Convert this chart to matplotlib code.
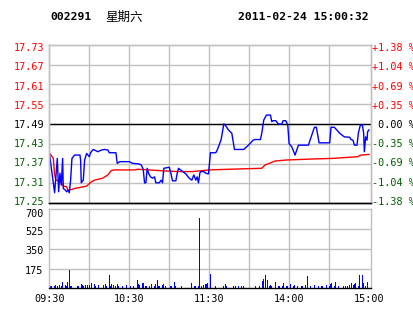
import matplotlib
matplotlib.use("Agg")
import matplotlib.pyplot as plt

plt.rcParams['font.family'] = ['DejaVu Sans Mono', 'Noto Sans CJK SC']

# minutes from 09:30 (lunch break removed: 11:30 == 13:00 at minute 120)
price_min = [0, 4, 6, 7, 8, 9, 10, 10.5, 12, 13, 14, 15, 16, 17, 19, 23, 23.5, 24, 25.5, 26.5,
             28, 29, 30, 31, 33, 36.5, 39, 41.5, 44, 45, 50, 51, 53, 60, 62.5, 67.5, 69, 70.5, 71.5, 72.5,
             73.5, 74.5, 76, 77.5, 79, 80, 82.5, 84, 85, 86, 90, 91, 92.5, 95, 96, 97, 98.5, 102.5, 105, 107,
             108.5, 110, 111, 112, 113, 113.5, 116, 117.5, 119.5, 121, 125, 126, 127, 129, 131, 132, 134.5, 137, 139, 146,
             149.5, 153, 154.5, 158.5, 159.5, 161, 163, 166, 167, 168, 170, 172, 174.5, 175.5, 177.5, 179, 180, 182, 184.5, 187,
             194.5, 199, 200.5, 202.5, 210.5, 211.5, 214, 218, 221.5, 225.5, 226.5, 228, 229, 231, 232, 233.5, 235, 236, 236.5, 237.5,
             238.5, 239, 240]
price = [17.403, 17.282, 17.386, 17.285, 17.341, 17.305, 17.386, 17.295, 17.29, 17.285, 17.29, 17.282, 17.32, 17.386, 17.396, 17.396, 17.381, 17.312, 17.32, 17.381,
         17.401, 17.396, 17.391, 17.403, 17.413, 17.406, 17.411, 17.413, 17.411, 17.403, 17.403, 17.371, 17.376, 17.376, 17.371, 17.369, 17.366, 17.353, 17.312, 17.312,
         17.356, 17.341, 17.33, 17.326, 17.33, 17.312, 17.312, 17.32, 17.312, 17.356, 17.359, 17.346, 17.318, 17.318, 17.341, 17.356, 17.351, 17.339, 17.326, 17.32,
         17.336, 17.32, 17.33, 17.312, 17.341, 17.346, 17.346, 17.341, 17.339, 17.403, 17.403, 17.411, 17.421, 17.443, 17.49, 17.487, 17.472, 17.462, 17.413, 17.413,
         17.426, 17.441, 17.443, 17.443, 17.462, 17.502, 17.517, 17.517, 17.497, 17.5, 17.5, 17.49, 17.49, 17.5, 17.5, 17.487, 17.431, 17.421, 17.396, 17.426,
         17.426, 17.48, 17.48, 17.433, 17.433, 17.48, 17.48, 17.462, 17.451, 17.45, 17.443, 17.441, 17.426, 17.426, 17.462, 17.487, 17.487, 17.462, 17.406, 17.451,
         17.441, 17.467, 17.472]

avg_min = [0, 3, 4, 5, 7, 9, 10.5, 13, 14, 17, 19, 23, 28, 31.5, 34, 40, 44, 46.5, 49, 64, 66.5, 75,
           86, 97.5, 107.5, 120, 134.5, 159.5, 162, 169.5, 178, 197, 213, 231.5, 234, 240]
avg_price = [17.403, 17.386, 17.336, 17.32, 17.318, 17.315, 17.302, 17.3, 17.29, 17.292, 17.295, 17.298, 17.302, 17.315, 17.32, 17.326,
             17.336, 17.349, 17.351, 17.351, 17.353, 17.351, 17.348, 17.346, 17.346, 17.351, 17.353, 17.356, 17.366, 17.378, 17.381, 17.384,
             17.386, 17.391, 17.396, 17.398]

vol_min = [1, 2, 4, 5, 6, 8, 9, 10, 12, 13, 14, 15, 16, 17, 21, 22, 24, 25, 26, 27, 29, 30, 32, 34, 35, 37,
           41, 42, 43, 45, 46, 47, 48, 50, 51, 52, 55, 58, 61, 63, 66, 67, 68, 70, 71, 72, 73, 75, 77, 79, 80, 81,
           82, 83, 85, 86, 87, 91, 92, 94, 95, 99, 107, 109, 110, 112, 113, 114, 116, 117, 118, 119, 121, 125, 131, 132,
           133, 138, 140, 142, 144, 146, 155, 158, 160, 161, 162, 164, 165, 166, 167, 170, 172, 173, 175, 176, 178, 179,
           181, 183, 184, 186, 189, 190, 192, 194, 196, 199, 202, 204, 205, 208, 210, 211, 212, 214, 215, 217, 221, 222,
           224, 225, 227, 228, 229, 230, 232, 233, 235, 236, 237, 239]
vol = [21, 21, 21, 30, 21, 27, 21, 56, 30, 21, 56, 162, 21, 21, 21, 21, 38, 27, 21, 27, 30, 30, 44, 38, 21, 30,
       30, 38, 21, 118, 21, 38, 30, 21, 38, 21, 21, 27, 21, 21, 74, 38, 30, 50, 44, 21, 21, 21, 38, 21, 38, 74,
       21, 21, 30, 38, 21, 21, 21, 56, 21, 21, 44, 21, 21, 21, 620, 21, 30, 38, 38, 44, 127, 21, 21, 38,
       21, 21, 21, 21, 21, 21, 21, 21, 65, 80, 115, 74, 21, 30, 21, 56, 21, 21, 21, 44, 21, 21,
       38, 21, 30, 21, 21, 21, 30, 109, 21, 30, 21, 21, 21, 30, 21, 38, 50, 21, 56, 21, 21, 21,
       21, 30, 44, 30, 38, 44, 21, 118, 118, 44, 21, 56]

price_ticks = [17.73, 17.67, 17.61, 17.55, 17.49, 17.43, 17.37, 17.31, 17.25]
pct_labels = ["+1.38 %", "+1.04 %", "+0.69 %", "+0.35 %", " 0.00 %", "-0.35 %", "-0.69 %", "-1.04 %", "-1.38 %"]
vol_ticks = [175, 350, 525, 700]
time_ticks = [0, 60, 120, 180, 240]
time_labels = ["09:30", "10:30", "11:30", "14:00", "15:00"]

prev_close = 17.49
grid_c = "#c0c0c0"
green = "#005f00"
fs = 7.3

# labels sit a little inside the grid lines, like in the original
price_lab_pos = [prev_close + (v - prev_close) * 0.967 for v in price_ticks]
vol_lab_pos = [162, 338, 512, 665]


def label_color(v):
    if v > prev_close + 1e-9:
        return "red"
    if v < prev_close - 1e-9:
        return green
    return "black"


fig = plt.figure(figsize=(4.14, 3.14), dpi=100)
ax = fig.add_axes([49.3 / 414, 1 - 203.3 / 314, 321.7 / 414, 158.6 / 314])
axv = fig.add_axes([49.3 / 414, 1 - 288.3 / 314, 321.7 / 414, 79 / 314])

x_max = 241.5

# price panel
ax.set_xlim(0, x_max)
ax.set_ylim(17.25, 17.73)
for t in range(30, 240, 30):
    ax.axvline(t, color=grid_c, lw=1, zorder=0)
for v in price_ticks[1:-1]:
    ax.axhline(v, color=grid_c, lw=1, zorder=0)
ax.axhline(prev_close, color="black", lw=1, zorder=1)
ax.plot(avg_min, avg_price, color="#ff0000", lw=1, zorder=2)
ax.plot(price_min, price, color="#0000ff", lw=1, zorder=3)

ax.set_xticks([])
ax.set_yticks(price_lab_pos)
ax.set_yticklabels(["%.2f" % v for v in price_ticks])
ax.tick_params(axis="y", length=0, pad=3.6, labelsize=fs)
for lab, v in zip(ax.get_yticklabels(), price_ticks):
    lab.set_color(label_color(v))

ax2 = ax.twinx()
ax2.set_ylim(17.25, 17.73)
ax2.set_yticks(price_lab_pos)
ax2.set_yticklabels(pct_labels)
ax2.tick_params(axis="y", length=0, pad=0.5, labelsize=fs)
for lab, v in zip(ax2.get_yticklabels(), price_ticks):
    lab.set_color(label_color(v))

for a in (ax, ax2):
    for s in ("top", "left", "right"):
        a.spines[s].set_color(grid_c)
        a.spines[s].set_linewidth(1)
    a.spines["bottom"].set_color("black")
    a.spines["bottom"].set_linewidth(1)

# volume panel
axv.set_xlim(0, x_max)
axv.set_ylim(0, 700)
for t in range(30, 240, 30):
    axv.axvline(t, color=grid_c, lw=1, zorder=0)
for v in vol_ticks[:-1]:
    axv.axhline(v, color=grid_c, lw=1, zorder=0)
axv.bar(vol_min, vol, width=0.75, color="#0000ff", linewidth=0, zorder=2)
axv.set_yticks(vol_lab_pos)
axv.set_yticklabels([str(v) for v in vol_ticks])
axv.set_xticks(time_ticks)
axv.set_xticklabels(time_labels)
axv.tick_params(axis="y", length=0, pad=4.3, labelsize=fs)
axv.tick_params(axis="x", length=0, pad=4, labelsize=fs)
for s in ("top", "left", "right"):
    axv.spines[s].set_color(grid_c)
    axv.spines[s].set_linewidth(1)
axv.spines["bottom"].set_color("black")
axv.spines["bottom"].set_linewidth(1)

# header
fig.text(50 / 414, 1 - 17 / 314, "002291", fontsize=8.2, fontweight="bold", va="center")
fig.text(105 / 414, 1 - 17 / 314, "星期六", fontsize=9, family="Noto Sans CJK SC", va="center")
fig.text(238 / 414, 1 - 17 / 314, "2011-02-24 15:00:32", fontsize=8.2, fontweight="bold", va="center")

fig.savefig("out.png", dpi=100)
